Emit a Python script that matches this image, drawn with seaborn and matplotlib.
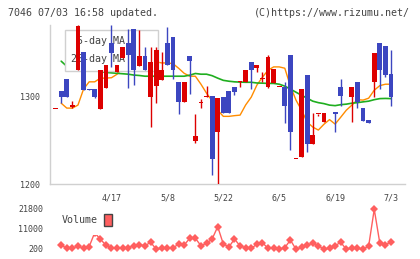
import numpy as np
import pandas as pd
import seaborn as sns
import matplotlib
matplotlib.use('Agg')
from matplotlib import pyplot as plt
from matplotlib.patches import Patch
from matplotlib.lines import Line2D

# daily prices (index 0 .. 60)
opens = [1285, 1306, 1320, 1288, 1330, 1350, 1308.5, 1308.7, 1285, 1309,
         1360, 1328, 1344, 1360, 1376, 1334, 1345.5, 1299, 1311, 1318,
         1360.5, 1367.4, 1316, 1293.5, 1345.5, 1249, 1292, 1299, 1300, 1259.4,
         1298.5, 1305.7, 1310.6, 1316, 1316.2, 1339, 1332.2, 1319, 1310.6, 1315,
         1310, 1310, 1346.6, 1229, 1231, 1323.9, 1245.5, 1280, 1270.8, 1281.5,
         1281.5, 1310, 1300.8, 1299.2, 1315.6, 1286, 1272.7, 1316.2, 1360, 1356.8,
         1325]
highs = [1285, 1306, 1320, 1295, 1381, 1350, 1308.5, 1308.7, 1330, 1335,
         1381, 1336, 1356, 1377, 1376, 1375, 1356, 1356, 1356, 1350,
         1378.7, 1367.4, 1316, 1316, 1345.5, 1280, 1297, 1311, 1300, 1298,
         1299, 1305.7, 1310.6, 1317, 1330.3, 1339, 1336, 1327, 1346.6, 1330.7,
         1310, 1316, 1346.6, 1229, 1307.6, 1323.9, 1280.3, 1280, 1280.3, 1281.5,
         1281.5, 1319, 1300.8, 1310, 1315.6, 1286, 1272.7, 1349.6, 1360, 1356.8,
         1352.3]
lows = [1285, 1292, 1299, 1287, 1330, 1307, 1306.5, 1297.4, 1285, 1309,
        1333, 1328, 1344, 1309, 1312.5, 1334, 1329.5, 1265, 1292, 1318,
        1335, 1320, 1280, 1293.5, 1303, 1247, 1287, 1299, 1210, 1199,
        1280.3, 1280.3, 1301, 1310.6, 1316.2, 1308.7, 1327.5, 1316, 1309, 1315,
        1310, 1269, 1238.6, 1229, 1231, 1236.7, 1245.5, 1277, 1270.8, 1281.5,
        1259.4, 1288.6, 1300.8, 1270.8, 1286, 1272, 1269.7, 1299.2, 1308.7, 1322,
        1288.6]
closes = [1285, 1299, 1299, 1290, 1380, 1307, 1306.5, 1299.2, 1330, 1335,
          1349, 1336, 1356, 1347, 1329.5, 1345.5, 1329.5, 1339, 1352, 1330,
          1335, 1329.5, 1293.5, 1316, 1340, 1254.5, 1293, 1300, 1229, 1298,
          1280.3, 1280.3, 1305, 1317, 1330.3, 1329.5, 1336, 1321, 1344.7, 1330.7,
          1310, 1288.6, 1259.4, 1229, 1307.6, 1245.5, 1255.7, 1280, 1280.3, 1281.5,
          1279.5, 1300, 1300.8, 1310, 1293.5, 1272, 1269.7, 1349.6, 1329.5, 1323.9,
          1299.2]

ma5 = [np.nan, 1292, 1286.4, 1286.4, 1289.8, 1308, 1316.3, 1316.3, 1320.5, 1320.5,
       1321, 1325, 1332, 1336, 1340, 1341, 1342, 1339.8, 1339, 1337.8,
       1337.8, 1337, 1331.8, 1326, 1322.7, 1322.7, 1313.6, 1303.4, 1294.7, 1284,
       1277, 1277, 1277.8, 1278.4, 1290, 1298.9, 1312.5, 1321.6, 1329.5, 1333.3,
       1333.3, 1331.8, 1311.4, 1295.5, 1284, 1270.5, 1264.8, 1261.4, 1268, 1273.3,
       1268.2, 1276, 1284, 1289.8, 1296, 1295.5, 1297.7, 1306.8, 1312, 1313.6,
       1313.6]
ma25 = [np.nan, 1339.8, 1334, 1333, 1332, 1331, 1330, 1329, 1328, 1327,
        1326.5, 1326, 1325.5, 1325, 1324, 1323.5, 1322.7, 1322.7, 1322.7, 1322.7,
        1322.7, 1322.7, 1322.7, 1322.7, 1323.9, 1325.8, 1325, 1325, 1323.3, 1320.5,
        1318, 1317, 1316.3, 1316, 1315.8, 1315.8, 1315, 1314.8, 1314.5, 1314.5,
        1313.6, 1311.4, 1308, 1304.5, 1301, 1297.7, 1294.3, 1292.6, 1291.5, 1289.8,
        1289.2, 1290.3, 1290.9, 1292, 1292.6, 1293.5, 1294.3, 1296, 1297.2, 1297.4,
        1297.2]

volume = [np.nan, 2360, 580, 580, 1820, 580, 1440, 9000, 5440, 2360,
          900, 580, 580, 900, 1980, 2360, 1980, 3820, 100, 580,
          580, 900, 2740, 2360, 5980, 5980, 1980, 3280, 5600, 12240,
          2900, 1280, 5600, 1820, 900, 580, 2740, 3600, 580, 580,
          40, 900, 5060, 40, 1120, 2360, 3280, 1980, 40, 580,
          1980, 3820, 40, 580, 580, 40, 1820, 21640, 3280, 2360,
          4140]

date_pos = [10, 20, 30, 40, 50, 60]
date_labels = ['4/17', '5/8', '5/22', '6/5', '6/19', '7/3']

df = pd.DataFrame({'i': np.arange(len(closes)), 'open': opens, 'high': highs,
                   'low': lows, 'close': closes, 'ma5': ma5, 'ma25': ma25,
                   'volume': volume})

sns.set_style('white')
plt.rcParams['font.family'] = ['DejaVu Sans Mono', 'DejaVu Sans']

RED = '#dd0000'
BLUE = '#3c46c0'
GRID = '#d0d0d0'
TXT = '#444444'

fig = plt.figure(figsize=(4.2, 2.59), dpi=100)
ax = fig.add_axes([50 / 420, 75 / 259, 355 / 420, 159 / 259])
axv = fig.add_axes([50 / 420, 6 / 259, 355 / 420, 50 / 259])

# moving averages
sns.lineplot(data=df, x='i', y='ma5', ax=ax, color='#ff8c00', lw=1, zorder=1)
sns.lineplot(data=df, x='i', y='ma25', ax=ax, color='#1fae1f', lw=1.2, zorder=1)

# candles
up = df['close'] >= df['open']
colors = np.where(up, RED, BLUE)
body_lo = np.minimum(df['open'], df['close'])
body_h = np.maximum(np.abs(df['close'] - df['open']), 1.0)
ax.vlines(df['i'], df['low'], df['high'], colors=colors, lw=1, zorder=3)
ax.bar(df['i'], body_h, bottom=body_lo, width=0.86, color=colors, lw=0, zorder=3)

ax.set_xlim(-1, 62.5)
ax.set_ylim(1200, 1381)
ax.set_xlabel('')
ax.set_ylabel('')
for s in ['top', 'right']:
    ax.spines[s].set_visible(False)
for s in ['left', 'bottom']:
    ax.spines[s].set_color(GRID)
    ax.spines[s].set_linewidth(1)
ax.set_xticks(np.linspace(-1, 62.5, 12))
ax.set_xticklabels([])
ax.set_xticks(date_pos, minor=True)
ax.set_xticklabels(date_labels, minor=True)
ax.tick_params(axis='x', which='major', direction='inout', length=7, width=1, color=GRID)
ax.tick_params(axis='x', which='minor', length=0, pad=7, labelsize=6, labelcolor=TXT)
ax.set_yticks([1200, 1300])
ax.set_yticklabels(['1200', '1300'])
ax.tick_params(axis='y', direction='inout', length=6, width=1, color=GRID,
               pad=4, labelsize=6, labelcolor=TXT)

# legend box: handles sit on the right, under the candles
handles = [Line2D([], [], color='none'), Line2D([], [], color='none')]
leg = ax.legend(handles, ['5-day MA', '25-day MA'], loc='upper left',
                bbox_to_anchor=(15 / 355, 154 / 159), borderaxespad=0,
                markerfirst=False, handlelength=2.3, handletextpad=0.4,
                fontsize=7.2, frameon=True, fancybox=False, framealpha=1,
                edgecolor=GRID, borderpad=0.6, labelspacing=0.85)
leg.get_frame().set_linewidth(1)
for t in leg.get_texts():
    t.set_color(TXT)
leg.set_zorder(2)

# volume panel
sns.lineplot(data=df, x='i', y='volume', ax=axv, color='#ff5f5f', lw=1,
             marker='D', markersize=3.8, markeredgewidth=0, zorder=1)
axv.set_xlim(-1, 62.5)
axv.set_ylim(-1960, 25040)
axv.set_xlabel('')
axv.set_ylabel('')
axv.set_xticks([])
axv.set_yticks([200, 11000, 21800])
axv.set_yticklabels(['200', '11000', '21800'])
axv.tick_params(axis='y', length=0, pad=5, labelsize=6, labelcolor=TXT)
for s in axv.spines.values():
    s.set_visible(False)
axv.patch.set_alpha(0)
vleg = axv.legend([Patch(facecolor='#ff5f5f', edgecolor='#444444', lw=1)], ['Volume'],
                  loc='upper left', bbox_to_anchor=(3 / 355, 48 / 50), borderaxespad=0,
                  markerfirst=False, handlelength=0.75, handleheight=1.5,
                  handletextpad=0.6, fontsize=7.2, frameon=True, framealpha=1,
                  edgecolor='none', facecolor='white', borderpad=0.9)
for t in vleg.get_texts():
    t.set_color(TXT)
vleg.set_zorder(2)

fig.text(8 / 420, 1 - 13 / 259, '7046 07/03 16:58 updated.', fontsize=7.2,
         color=TXT, va='center', ha='left')
fig.text(410 / 420, 1 - 13 / 259, '(C)https://www.rizumu.net/', fontsize=7.2,
         color=TXT, va='center', ha='right')

fig.savefig('out.png', dpi=100)
plt.close()
